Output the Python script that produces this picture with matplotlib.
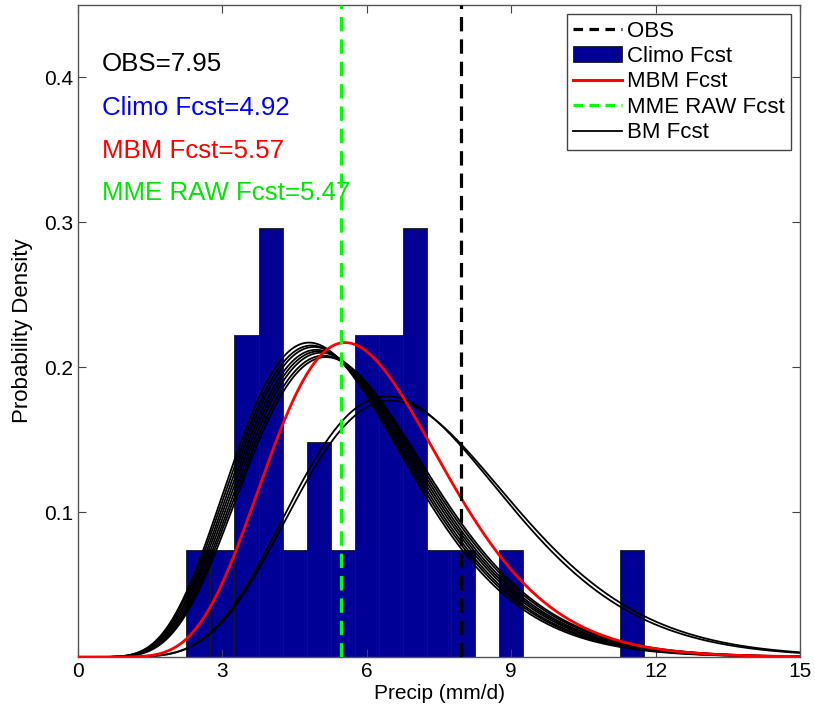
import math
import numpy as np
import matplotlib
matplotlib.use("Agg")
import matplotlib.pyplot as plt
from matplotlib.patches import Patch
from matplotlib.lines import Line2D

plt.rcParams['font.family'] = ['Liberation Sans', 'DejaVu Sans']

# Climatology histogram (27 members), bins of 0.5 mm/d
bin_centers = [2.5, 3.0, 3.5, 4.0, 4.5, 5.0, 5.5, 6.0, 6.5, 7.0,
               7.5, 8.0, 8.5, 9.0, 9.5, 10.0, 10.5, 11.0, 11.5]
bin_counts = [1, 1, 3, 4, 1, 2, 1, 3, 3, 4,
              1, 1, 0, 1, 0, 0, 0, 0, 1]
bin_width = 0.5

# Fitted gamma curves, given by mode and peak density
mbm_mode, mbm_peak = 5.55, 0.217
bm_modes = [4.80, 4.85, 4.90, 4.95, 5.00, 5.05, 5.10, 5.15, 6.42, 6.50]
bm_peaks = [0.217, 0.215, 0.214, 0.212, 0.211, 0.210, 0.208, 0.207, 0.180, 0.177]

obs_val = 7.95
climo_val = 4.92
mbm_val = 5.57
mme_raw_val = 5.47


def gamma_pdf(x, k, theta):
    x = np.asarray(x, dtype=float)
    out = np.zeros_like(x)
    pos = x > 0
    out[pos] = np.exp((k - 1) * np.log(x[pos]) - x[pos] / theta
                      - math.lgamma(k) - k * math.log(theta))
    return out


def fit_from_mode(mode, peak):
    # find shape k so that the gamma pdf with this mode has this peak height
    lo, hi = 1.01, 200.0
    for _ in range(80):
        k = 0.5 * (lo + hi)
        theta = mode / (k - 1)
        f = float(gamma_pdf(np.array([mode]), k, theta)[0])
        if f < peak:
            lo = k
        else:
            hi = k
    k = 0.5 * (lo + hi)
    return k, mode / (k - 1)


fig = plt.figure(figsize=(8.15, 7.15), dpi=100)
ax = fig.add_axes([78/815, 1 - 657/715, 722/815, 652/715])

total = sum(bin_counts)
dens = [c / (total * bin_width) for c in bin_counts]
ax.bar(bin_centers, dens, width=bin_width, color='#000096',
       edgecolor='#1a1a1a', linewidth=0.6, zorder=1)

xx = np.linspace(0, 15, 600)
for m, p in zip(bm_modes, bm_peaks):
    k, th = fit_from_mode(m, p)
    ax.plot(xx, gamma_pdf(xx, k, th), color='black', lw=1.3, zorder=2)

k, th = fit_from_mode(mbm_mode, mbm_peak)
ax.plot(xx, gamma_pdf(xx, k, th), color='#ff0000', lw=2.0, zorder=3)

ax.axvline(obs_val, color='black', lw=2.3, ls=(0, (4.5, 2.5)), zorder=4)
ax.axvline(mme_raw_val, color='#00ff00', lw=2.3, ls=(0, (4.5, 2.5)), zorder=4)

ax.text(0.5, 0.409, 'OBS=%.2f' % obs_val, color='black', fontsize=18.6, va='center')
ax.text(0.5, 0.379, 'Climo Fcst=%.2f' % climo_val, color='#0000ff', fontsize=18.6, va='center')
ax.text(0.5, 0.349, 'MBM Fcst=%.2f' % mbm_val, color='#ff0000', fontsize=18.6, va='center')
ax.text(0.5, 0.320, 'MME RAW Fcst=%.2f' % mme_raw_val, color='#00e600', fontsize=18.6, va='center')

ax.set_xlim(0, 15)
ax.set_ylim(0, 0.45)
ax.set_xticks([0, 3, 6, 9, 12, 15])
ax.set_yticks([0.1, 0.2, 0.3, 0.4])
ax.tick_params(direction='in', top=True, right=True, length=6, width=0.8,
               labelsize=15, color='#444444')
for s in ax.spines.values():
    s.set_color('#555555')
    s.set_linewidth(1.0)

ax.set_xlabel('Precip (mm/d)', fontsize=15, labelpad=2)
ax.set_ylabel('Probability Density', fontsize=16, labelpad=8)

handles = [
    Line2D([], [], color='black', lw=2.3, ls=(0, (3, 2))),
    Patch(facecolor='#000096', edgecolor='#1a1a1a', linewidth=0.6),
    Line2D([], [], color='#ff0000', lw=2.2),
    Line2D([], [], color='#00ff00', lw=2.3, ls=(0, (3, 2))),
    Line2D([], [], color='black', lw=1.3),
]
labels = ['OBS', 'Climo Fcst', 'MBM Fcst', 'MME RAW Fcst', 'BM Fcst']
leg = ax.legend(handles, labels, loc='upper right', fontsize=16,
                fancybox=False, framealpha=1, edgecolor='#444444',
                handlelength=2.2, handletextpad=0.2, labelspacing=0.2,
                borderpad=0.3, borderaxespad=0.4)
leg.get_frame().set_linewidth(1.0)

fig.savefig('out.png', dpi=100)
